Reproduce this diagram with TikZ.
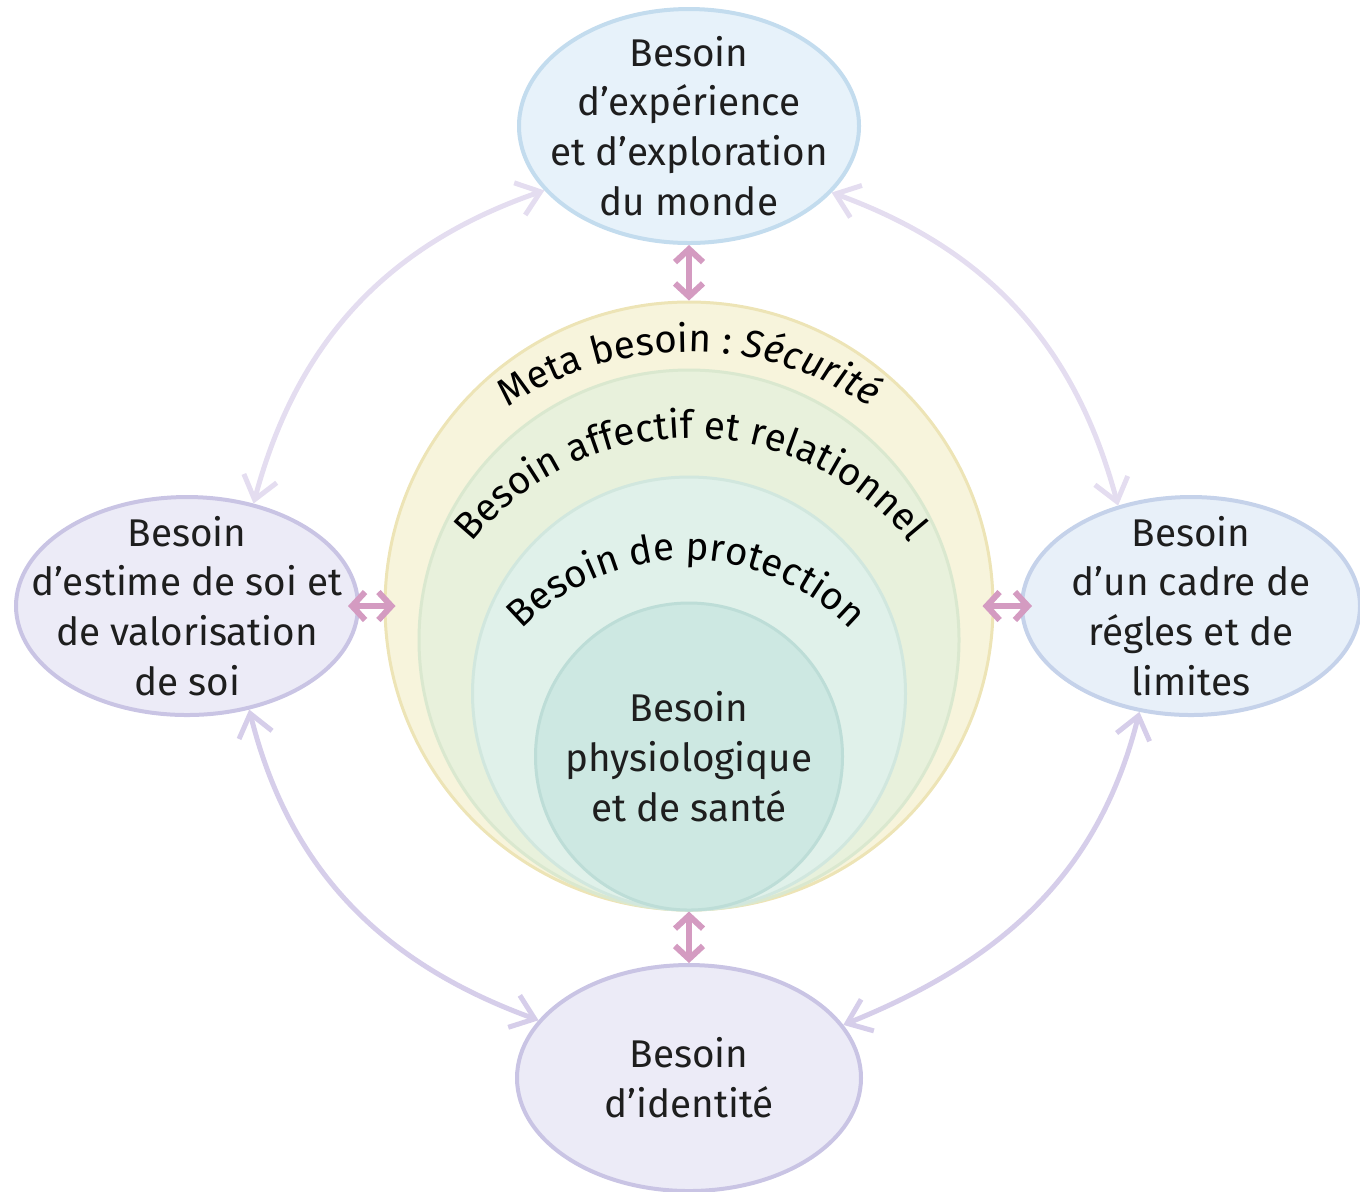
\documentclass[tikz,border=0pt]{standalone}
\usepackage{fontspec}
\setmainfont{Fira Sans}
\usetikzlibrary{shapes.geometric,arrows.meta,decorations.text}

\definecolor{metafill}{HTML}{F7F4DC}
\definecolor{metaline}{HTML}{EDE4B6}
\definecolor{affectfill}{HTML}{E8F1DC}
\definecolor{affectline}{HTML}{DAE8CF}
\definecolor{protectfill}{HTML}{E0F1EA}
\definecolor{protectline}{HTML}{D1E7DE}
\definecolor{physiofill}{HTML}{CDE8E2}
\definecolor{physioline}{HTML}{BDDDD7}
\definecolor{bluefill}{HTML}{E7F2FA}
\definecolor{blueline}{HTML}{C3DCEE}
\definecolor{lavfill}{HTML}{ECEBF7}
\definecolor{lavline}{HTML}{C9C4E4}
\definecolor{pinkarrow}{HTML}{D49BC1}
\definecolor{lavarrow}{HTML}{D6CEEA}
\definecolor{lavarrowlight}{HTML}{E4DDF0}
\definecolor{needtext}{HTML}{1E1E1E}

\newcommand\needfont{\fontsize{11}{14.2}\selectfont}

\tikzset{
  needell/.style={ellipse, line width=0.4mm},
  needtxt/.style={align=center, font=\needfont, text=needtext},
  ring/.style={circle, line width=0.3mm, inner sep=0pt},
  linkarr/.style={{Straight Barb[length=1.3mm,width=2.8mm]}-{Straight Barb[length=1.3mm,width=2.8mm]}, line width=0.6mm, draw=pinkarrow},
  overlap/.style={shorten <=-1.2mm, shorten >=-1.2mm},
  looparr/.style={{Straight Barb[length=2.2mm,width=3.4mm]}-{Straight Barb[length=2.2mm,width=3.4mm]}, line width=0.5mm, draw=#1},
  looparr/.default=lavarrow,
  arctext/.style={decorate, decoration={text along path, text align=center, text={#1}}}
}

\begin{document}
\begin{tikzpicture}

\useasboundingbox (0,0) rectangle (13.6,-11.91);

\node[ring, minimum size=6.08cm, fill=metafill, draw=metaline] (meta) at (6.89,-6.06) {};
\node[ring, minimum size=5.40cm, fill=affectfill, draw=affectline] (affect) at (6.89,-6.40) {};
\node[ring, minimum size=4.33cm, fill=protectfill, draw=protectline] (protect) at (6.89,-6.935) {};
\node[ring, minimum size=3.07cm, fill=physiofill, draw=physioline, needtxt] (physio) at (6.89,-7.565) {Besoin\\physiologique\\et de santé};

\path[arctext={|\needfont|Meta besoin : |\needfont\itshape|Sécurité}] (6.89,-6.76) ++(155:3.24) arc[start angle=155, end angle=25, radius=3.24];
\path[arctext={|\needfont|Besoin affectif et relationnel}] (6.91,-7.19) ++(160:2.81) arc[start angle=160, end angle=20, radius=2.81];
\path[arctext={|\needfont|Besoin de protection}] (6.86,-7.89) ++(160:2.29) arc[start angle=160, end angle=20, radius=2.29];

\node[needell, minimum width=3.40cm, minimum height=2.34cm, fill=bluefill, draw=blueline] (explo) at (6.89,-1.26) {};
\node[needtxt] (explotxt) at (explo) {Besoin\\d’expérience\\et d’exploration\\du monde};

\node[needell, minimum width=3.42cm, minimum height=2.18cm, fill=lavfill, draw=lavline] (estime) at (1.87,-6.06) {};
\node[needtxt] (estimetxt) at (estime) {Besoin\\d’estime de soi et\\de valorisation\\de soi};

\node[needell, minimum width=3.38cm, minimum height=2.18cm, fill=bluefill!70!lavfill, draw=blueline!60!lavline] (cadre) at (11.91,-6.06) {};
\node[needtxt] (cadretxt) at (cadre) {Besoin\\d’un cadre de\\régles et de\\limites};

\node[needell, minimum width=3.44cm, minimum height=2.26cm, fill=lavfill, draw=lavline] (ident) at (6.89,-10.78) {};
\node[needtxt] (identtxt) at (ident) {Besoin\\d’identité};

\draw[linkarr] (explo) -- (meta);
\draw[linkarr, overlap] (estime) -- (meta);
\draw[linkarr, overlap] (cadre) -- (meta);
\draw[linkarr] (meta) -- (ident);

\draw[looparr=lavarrowlight] (estime.57) to[out=75,in=199] (explo.204);
\draw[looparr=lavarrowlight] (explo.335) to[out=340,in=105] (cadre.126);
\draw[looparr] (estime.301) to[out=284,in=160] (ident.159);
\draw[looparr] (cadre.244) to[out=256,in=22] (ident.19);

\end{tikzpicture}
\end{document}
